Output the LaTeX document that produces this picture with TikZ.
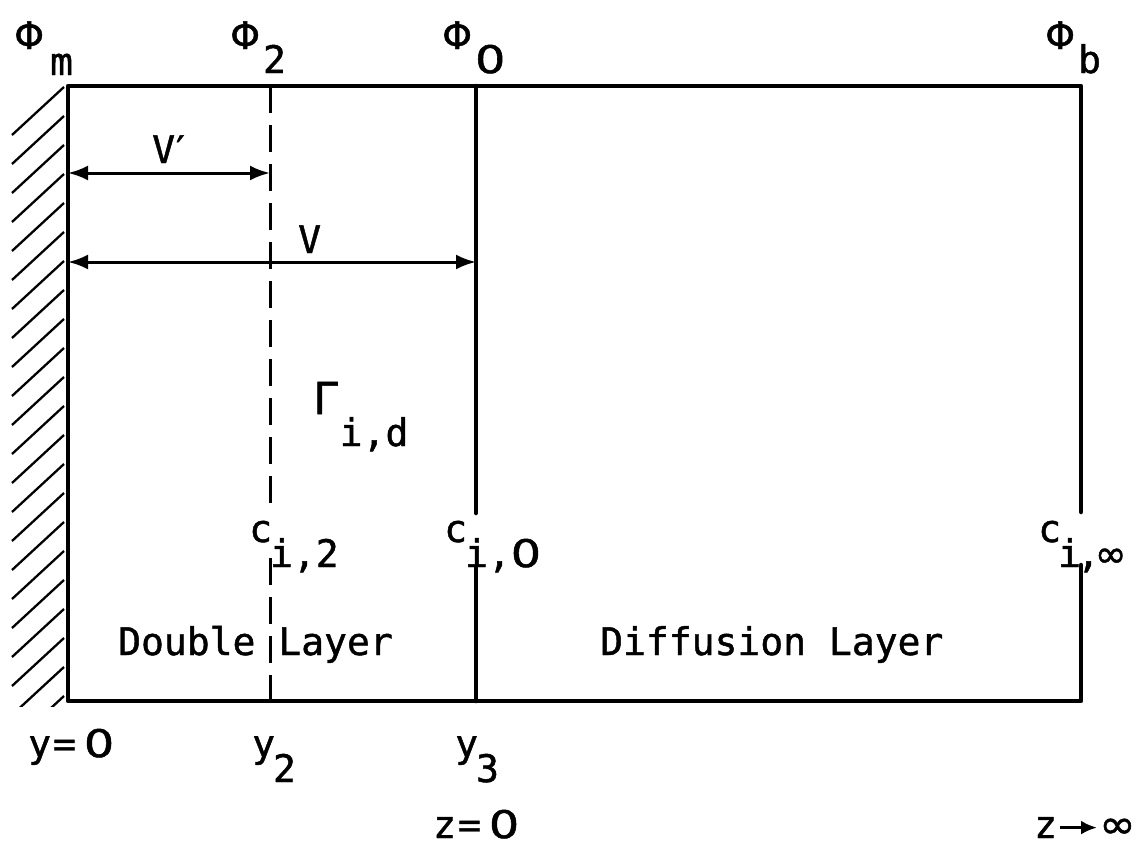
\documentclass[tikz,border=0pt]{standalone}
\usepackage{graphicx}
\usepackage{fontspec}
\setmonofont[FakeBold=1.2]{DejaVu Sans Mono}
\newfontfamily\greekf[FakeBold=1.2]{DejaVu Sans}
\usetikzlibrary{arrows.meta}
\newcommand{\dn}[1]{\raisebox{-25pt}{#1}}
\newcommand{\zero}{{\greekf\scalebox{1.25}[1]{0}}}
\newcommand{\infy}{{\greekf\scalebox{1.15}[1.05]{∞}}}
\begin{document}
\begin{tikzpicture}[x=1pt,y=-1pt,
  lbl/.style={inner sep=0pt, anchor=base west, font=\ttfamily\fontsize{38}{38}\selectfont},
  wall/.style={line width=4.5pt, line cap=round, line join=round},
  dashline/.style={line width=3pt, dash pattern=on 27pt off 12pt},
  dim/.style={line width=3pt, {Latex[length=20pt,width=15pt]}-{Latex[length=20pt,width=15pt]}},
  hatch/.style={line width=2.3pt}]
\useasboundingbox (0,0) rectangle (1142,846);

% corners and line ends
\coordinate (TL) at (68,86);
\coordinate (TR) at (1081,86);
\coordinate (BL) at (68,701);
\coordinate (BR) at (1081,701);
\coordinate (D1) at (270,86);  \coordinate (D2) at (270,503);
\coordinate (D3) at (270,558); \coordinate (D4) at (270,701);
\coordinate (S1) at (476,86);  \coordinate (S2) at (476,513);
\coordinate (S3) at (476,567); \coordinate (S4) at (476,701);
\coordinate (R2) at (1081,512); \coordinate (R3) at (1081,565);

% hatching of the wall
\begin{scope}
  \clip (0,86) rectangle (66,706);
  \foreach \k in {0,...,21} \draw[hatch] (64,87+29*\k) -- ++(-52,48);
\end{scope}

% box
\draw[wall] (R2) -- (TR) -- (TL) -- (BL) -- (BR) -- (R3);
\draw[wall] (S1) -- (S2);
\draw[wall] (S3) -- (S4);
\draw[dashline] (D1) -- (D2);
\draw[dashline] (D3) -- (D4);

% top labels
\node[lbl] (phim) at (14,49) {{\greekf Φ}\hspace{6pt}\raisebox{-26pt}{m}};
\node[lbl] (phi2) at (230,49) {{\greekf Φ}\hspace{3pt}\raisebox{-24pt}{2}};
\node[lbl] (phi0) at (442,49) {{\greekf Φ}\hspace{3pt}\raisebox{-24pt}{\zero}};
\node[lbl] (phib) at (1045,49) {{\greekf Φ}\hspace{3pt}\raisebox{-24pt}{b}};

% dimension arrows
\coordinate (a1) at (68,173);
\coordinate (a2) at (270,173);
\coordinate (b1) at (68,262);
\coordinate (b2) at (476,262);
\draw[dim] (a1) -- (a2);
\draw[dim] (b1) -- (b2);
\node[lbl] (vp) at (152,163) {V\hspace{1pt}{\greekf ′}};
\node[lbl] (v) at (298,253) {V};

% flux
\node[lbl] (gam) at (313,414) {{\greekf\fontsize{44}{44}\selectfont Γ}\hspace{2pt}\raisebox{-32pt}{i,d}};

% concentrations
\node[lbl] (c2) at (249,542) {c\hspace{-2pt}\dn{i,2}};
\node[lbl] (c0) at (444,542) {c\hspace{-2pt}\dn{i,\zero}};
\node[lbl] (cinf) at (1038,542) {c\hspace{-3pt}\dn{i\hspace{-4pt},\hspace{-5pt}{\greekf ∞}}};

% layer names
\node[lbl] (dl) at (118,655) {Double Layer};
\node[lbl] (df) at (600,655) {Diffusion Layer};

% positions
\node[lbl] (y0) at (28,757) {y\hspace{2pt}=\hspace{8pt}\zero};
\node[lbl] (y2) at (252,757) {y\hspace{-2pt}\dn{2}};
\node[lbl] (y3) at (455,757) {y\hspace{-2pt}\dn{3}};
\node[lbl] (z0) at (433,838) {z\hspace{2pt}=\hspace{8pt}\zero};
\node[lbl] (zi) at (1034,838) {z};
\node[lbl] (inf) at (1099,838) {\infy};
\draw[line width=3.5pt, -{Latex[length=16pt,width=14pt]}] ([xshift=3pt]zi.east) -- ([xshift=-2pt]zi.east -| inf.west);
\end{tikzpicture}
\end{document}
